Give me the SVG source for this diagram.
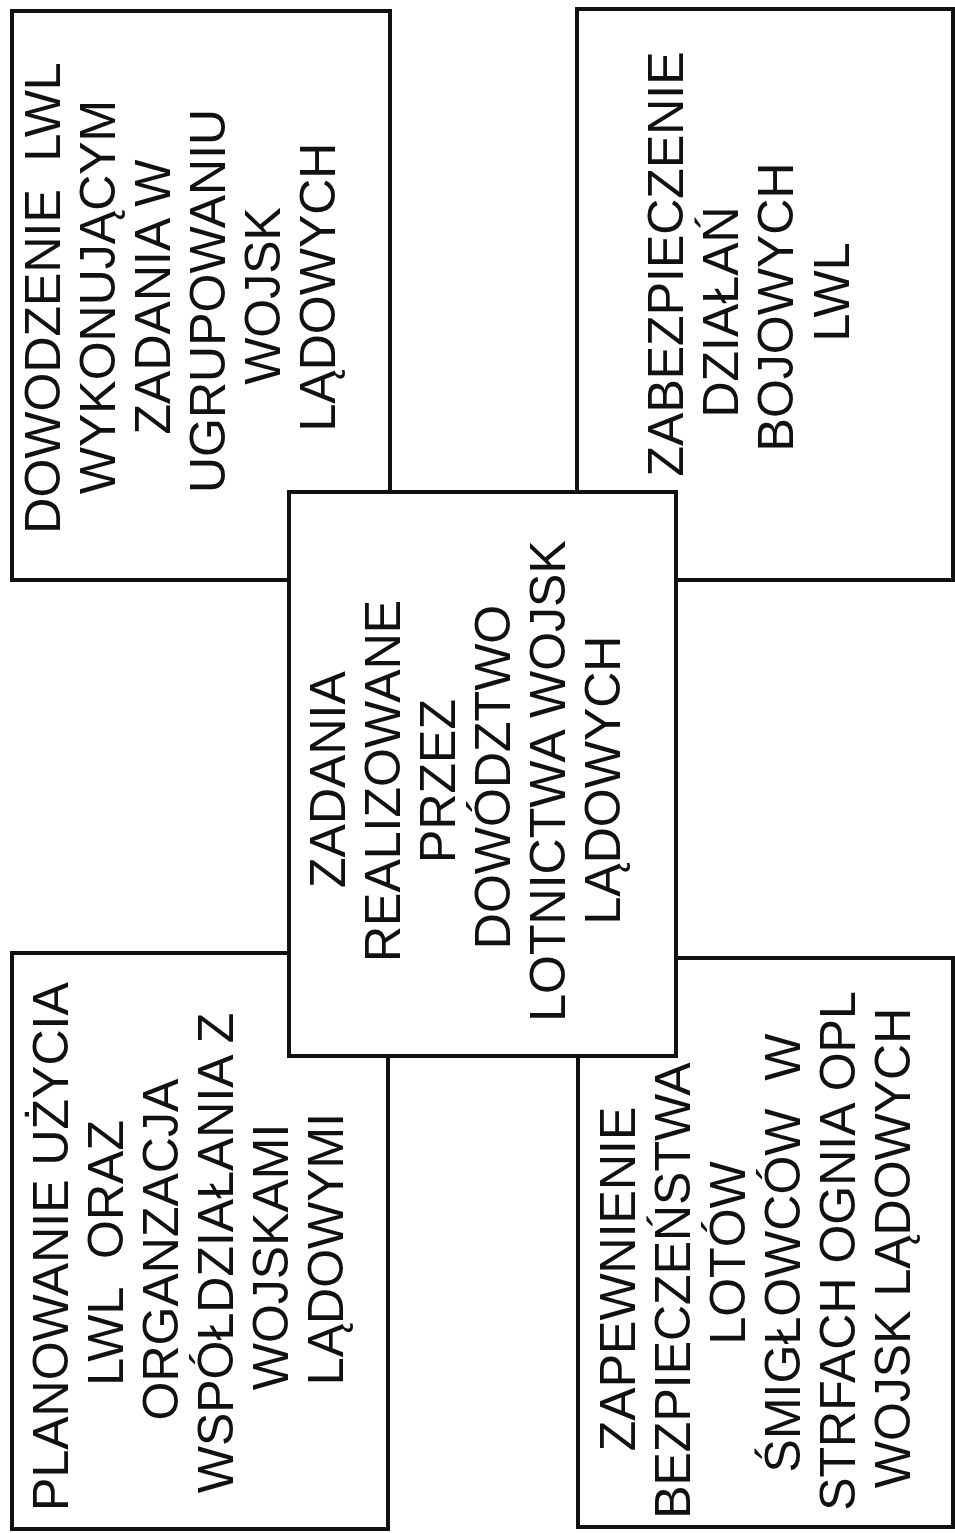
<svg xmlns="http://www.w3.org/2000/svg" width="955" height="1533" viewBox="0 0 955 1533">
  <style>
    .box { fill: none; stroke: #111; stroke-width: 4; stroke-linejoin: miter; }
    .lbl { font-family: "Liberation Sans", Arial, sans-serif; font-size: 50px; fill: #111; text-anchor: middle; }
  </style>
  <rect width="955" height="1533" fill="#fff"/>

  <!-- central node: all labels run bottom-to-top, so every text block is rotated -90deg;
       in the rotated frame tspan x = -(vertical centre), y = baseline column -->
  <g id="center">
    <rect class="box" x="289" y="492" width="387" height="564"/>
    <text class="lbl" transform="rotate(-90)">
      <tspan x="-774" y="345">ZADANIA</tspan>
      <tspan x="-774" y="400">REALIZOWANE</tspan>
      <tspan x="-774" y="455">PRZEZ</tspan>
      <tspan x="-770" y="510">DOWÓDZTWO</tspan>
      <tspan x="-774" y="565">LOTNICTWA WOJSK</tspan>
      <tspan x="-780" y="620">LĄDOWYCH</tspan>
    </text>
  </g>

  <!-- outer nodes are drawn as notched outlines that stop at the central box -->
  <g id="command">
    <polygon class="box" points="12,11 390,11 390,492 289,492 289,580 12,580"/>
    <text class="lbl" transform="rotate(-90)">
      <tspan x="-292" y="60">DOWODZENIE&#160; LWL</tspan>
      <tspan x="-290" y="115">WYKONUJĄCYM</tspan>
      <tspan x="-290" y="170">ZADANIA W</tspan>
      <tspan x="-294" y="225">UGRUPOWANIU</tspan>
      <tspan x="-289" y="280">WOJSK</tspan>
      <tspan x="-287" y="335">LĄDOWYCH</tspan>
    </text>
  </g>

  <g id="support">
    <polygon class="box" points="577,9 953,9 953,580 676,580 676,492 577,492"/>
    <text class="lbl" transform="rotate(-90)">
      <tspan x="-257" y="683">ZABEZPIECZENIE</tspan>
      <tspan x="-305" y="738">DZIAŁAŃ</tspan>
      <tspan x="-300" y="793">BOJOWYCH</tspan>
      <tspan x="-292" y="849">LWL</tspan>
    </text>
  </g>

  <g id="planning">
    <polygon class="box" points="12,953 289,953 289,1056 388,1056 388,1529 12,1529"/>
    <text class="lbl" transform="rotate(-90)">
      <tspan x="-1241" y="68">PLANOWANIE UŻYCIA</tspan>
      <tspan x="-1246" y="123">LWL&#160; ORAZ</tspan>
      <tspan x="-1244" y="178">ORGANZACJA</tspan>
      <tspan x="-1246" y="233">WSPÓŁDZIAŁANIA Z</tspan>
      <tspan x="-1250" y="288">WOJSKAMI</tspan>
      <tspan x="-1249" y="343">LĄDOWYMI</tspan>
    </text>
  </g>

  <g id="safety">
    <polygon class="box" points="676,958 953,958 953,1527 578,1527 578,1056 676,1056"/>
    <text class="lbl" transform="rotate(-90)">
      <tspan x="-1272" y="635">ZAPEWNIENIE</tspan>
      <tspan x="-1285" y="690">BEZPIECZEŃSTWA</tspan>
      <tspan x="-1246" y="745">LOTÓW</tspan>
      <tspan x="-1246" y="800">ŚMIGŁOWCÓW&#160; W</tspan>
      <tspan x="-1245" y="855">STRFACH OGNIA OPL</tspan>
      <tspan x="-1248" y="910">WOJSK LĄDOWYCH</tspan>
    </text>
  </g>

  <!-- no separate connectors: the boxes abut the central box directly -->
  <g id="connectors"/>
</svg>
